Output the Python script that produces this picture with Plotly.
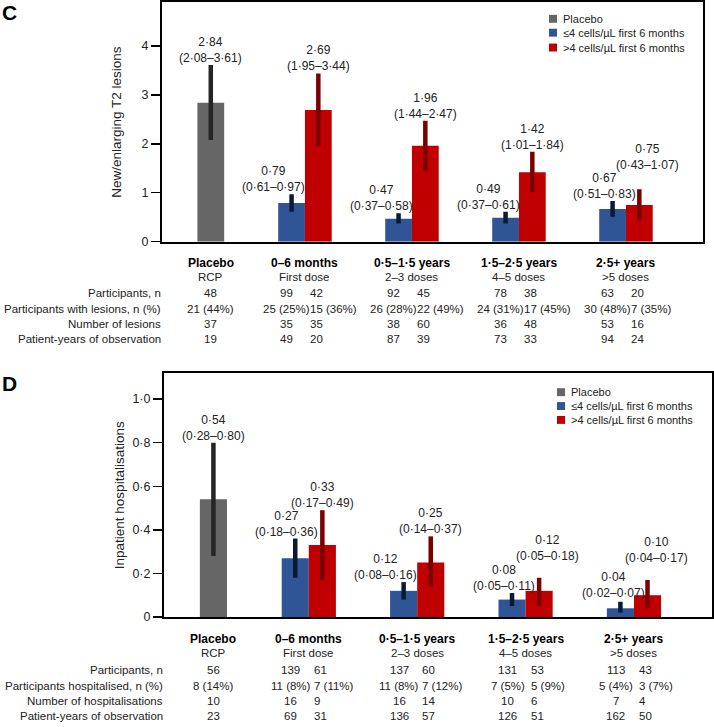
import plotly.graph_objects as go

# ---------------- data ----------------
group_names = ["Placebo", "0–6 months", "0·5–1·5 years", "1·5–2·5 years", "2·5+ years"]
group_subs = ["RCP", "First dose", "2–3 doses", "4–5 doses", ">5 doses"]
series_names = ["Placebo", "≤4 cells/µL first 6 months", ">4 cells/µL first 6 months"]

# Panel C: new/enlarging T2 lesions (rate, 95% CI)
c_placebo = [2.84]
c_placebo_lo = [2.08]
c_placebo_hi = [3.61]
c_low = [0.79, 0.47, 0.49, 0.67]
c_low_lo = [0.61, 0.37, 0.37, 0.51]
c_low_hi = [0.97, 0.58, 0.61, 0.83]
c_high = [2.69, 1.96, 1.42, 0.75]
c_high_lo = [1.95, 1.44, 1.01, 0.43]
c_high_hi = [3.44, 2.47, 1.84, 1.07]

c_participants = [48, 99, 92, 78, 63]
c_participants_high = [42, 45, 38, 20]
c_with_lesions_n = [21, 25, 26, 24, 30]
c_with_lesions_pct = [44, 25, 28, 31, 48]
c_with_lesions_high_n = [15, 22, 17, 7]
c_with_lesions_high_pct = [36, 49, 45, 35]
c_num_lesions = [37, 35, 38, 36, 53]
c_num_lesions_high = [35, 60, 48, 16]
c_pyears = [19, 49, 87, 73, 94]
c_pyears_high = [20, 39, 33, 24]

# Panel D: inpatient hospitalisations (rate, 95% CI)
d_placebo = [0.54]
d_placebo_lo = [0.28]
d_placebo_hi = [0.80]
d_low = [0.27, 0.12, 0.08, 0.04]
d_low_lo = [0.18, 0.08, 0.05, 0.02]
d_low_hi = [0.36, 0.16, 0.11, 0.07]
d_high = [0.33, 0.25, 0.12, 0.10]
d_high_lo = [0.17, 0.14, 0.05, 0.04]
d_high_hi = [0.49, 0.37, 0.18, 0.17]

d_participants = [56, 139, 137, 131, 113]
d_participants_high = [61, 60, 53, 43]
d_hosp_n = [8, 11, 11, 7, 5]
d_hosp_pct = [14, 8, 8, 5, 4]
d_hosp_high_n = [7, 7, 5, 3]
d_hosp_high_pct = [11, 12, 9, 7]
d_num_hosp = [10, 16, 16, 10, 7]
d_num_hosp_high = [9, 14, 6, 4]
d_pyears = [23, 69, 136, 126, 162]
d_pyears_high = [31, 57, 51, 50]

c_ticks = [0, 1, 2, 3, 4]
d_ticks = [0, 0.2, 0.4, 0.6, 0.8, 1.0]

# ---------------- style / layout ----------------
W, H = 714, 727
FONT = "Liberation Sans, Arial, sans-serif"
COL = ["#666666", "#2F5597", "#C00000"]
ERRCOL = ["#262626", "#0B1A33", "#7A0000"]
TXT = "#222222"
GROUP_X = [0.12, 1, 2, 3, 4]
XRANGE = [-0.336, 4.72]
BW = 0.25
TFS = 11.5  # table font size


def dot(v, nd=2):
    return f"{v:.{nd}f}".replace(".", "·")


def py(px):
    return 1 - px / H


fig = go.Figure()
annotations = []
shapes = []

panels = [
    dict(
        xa="x", ya="y", xdom=(162, 703), ydom=(2, 244), yr=[0, 4.9],
        ticks=c_ticks, ticktext=[str(t) for t in c_ticks],
        title="New/enlarging T2 lesions", title_x=117, letter="C", letter_y=13,
        pl=(c_placebo, c_placebo_lo, c_placebo_hi),
        lo=(c_low, c_low_lo, c_low_hi), hi=(c_high, c_high_lo, c_high_hi),
        head_y=(265.5, 279.5), row_y=[296, 312.5, 327.5, 342.5],
        rows=[
            ("Participants, n", [str(v) for v in c_participants], [str(v) for v in c_participants_high]),
            ("Participants with lesions, n (%)",
             [f"{n} ({p}%)" for n, p in zip(c_with_lesions_n, c_with_lesions_pct)],
             [f"{n} ({p}%)" for n, p in zip(c_with_lesions_high_n, c_with_lesions_high_pct)]),
            ("Number of lesions", [str(v) for v in c_num_lesions], [str(v) for v in c_num_lesions_high]),
            ("Patient-years of observation", [str(v) for v in c_pyears], [str(v) for v in c_pyears_high]),
        ],
        leg_x=553, leg_y=[19, 33, 48],
        dx_low=[-18, -17, -17, -8], dx_high=[0, 0, 0, 8],
        dy_pl=-2, dy_low=[-2, -2, -2, -2], dy_high=[-2, -2, -2, 15],
    ),
    dict(
        xa="x2", ya="y2", xdom=(164, 712), ydom=(377, 623), yr=[0, 1.118],
        ticks=d_ticks, ticktext=["0"] + [dot(t, 1) for t in d_ticks[1:]],
        title="Inpatient hospitalisations", title_x=119, letter="D", letter_y=387,
        pl=(d_placebo, d_placebo_lo, d_placebo_hi),
        lo=(d_low, d_low_lo, d_low_hi), hi=(d_high, d_high_lo, d_high_hi),
        head_y=(645.5, 659.5), row_y=[676.5, 692.5, 707.5, 722.5],
        rows=[
            ("Participants, n", [str(v) for v in d_participants], [str(v) for v in d_participants_high]),
            ("Participants hospitalised, n (%)",
             [f"{n} ({p}%)" for n, p in zip(d_hosp_n, d_hosp_pct)],
             [f"{n} ({p}%)" for n, p in zip(d_hosp_high_n, d_hosp_high_pct)]),
            ("Number of hospitalisations", [str(v) for v in d_num_hosp], [str(v) for v in d_num_hosp_high]),
            ("Patient-years of observation", [str(v) for v in d_pyears], [str(v) for v in d_pyears_high]),
        ],
        leg_x=561, leg_y=[396, 410, 424],
        dx_low=[-9, -18, -8, -7], dx_high=[0, 0, 8, 9],
        dy_pl=-2, dy_low=[-2, -2, -2, 0], dy_high=[-2, -2, 13, 13],
    ),
]

layout_axes = {}
for P in panels:
    xa, ya = P["xa"], P["ya"]
    xkey = "xaxis" if xa == "x" else "xaxis" + xa[1:]
    ykey = "yaxis" if ya == "y" else "yaxis" + ya[1:]
    x0, x1 = P["xdom"]
    ytop, ybot = P["ydom"]
    ppu = (x1 - x0) / (XRANGE[1] - XRANGE[0])  # px per x unit
    layout_axes[xkey] = dict(
        domain=[x0 / W, x1 / W], range=XRANGE, anchor=ya,
        showticklabels=False, ticks="", showgrid=False, zeroline=False,
        showline=True, mirror=True, linecolor="black", linewidth=2, fixedrange=True,
    )
    layout_axes[ykey] = dict(
        domain=[py(ybot), py(ytop)], range=P["yr"], anchor=xa,
        tickvals=P["ticks"], ticktext=P["ticktext"],
        ticks="outside", ticklen=9, tickwidth=1.5, tickcolor="black",
        tickfont=dict(family=FONT, size=12.5, color=TXT),
        showgrid=False, zeroline=False,
        showline=True, mirror=True, linecolor="black", linewidth=2, fixedrange=True,
    )

    # bars
    pv, plo, phi = P["pl"]
    lv, llo, lhi = P["lo"]
    hv, hlo, hhi = P["hi"]
    series = [
        ([GROUP_X[0]], pv, plo, phi),
        ([g - BW / 2 for g in GROUP_X[1:]], lv, llo, lhi),
        ([g + BW / 2 for g in GROUP_X[1:]], hv, hlo, hhi),
    ]
    for k, (xs, v, lo, hi) in enumerate(series):
        fig.add_trace(go.Bar(
            x=xs, y=v, width=BW, xaxis=xa, yaxis=ya,
            name=series_names[k], showlegend=False,
            marker=dict(color=COL[k], line=dict(width=0)),
            error_y=dict(type="data", symmetric=False,
                         array=[h - a for h, a in zip(hi, v)],
                         arrayminus=[a - l for a, l in zip(v, lo)],
                         color=ERRCOL[k], thickness=4.5, width=0),
        ))
        # value labels
        for j, (xx, a, l, h) in enumerate(zip(xs, v, lo, hi)):
            if k == 0:
                dx, dy = 0, P["dy_pl"]
            elif k == 1:
                dx, dy = P["dx_low"][j], P["dy_low"][j]
            else:
                dx, dy = P["dx_high"][j], P["dy_high"][j]
            annotations.append(dict(
                x=xx + dx / ppu, y=h, xref=xa, yref=ya, xanchor="center", yanchor="bottom",
                yshift=dy, showarrow=False, align="center",
                text=f"{dot(a)}<br>({dot(l)}–{dot(h)})",
                font=dict(family=FONT, size=12, color=TXT),
            ))

    # y-axis title
    annotations.append(dict(
        x=P["title_x"] / W, y=py((ytop + ybot) / 2), xref="paper", yref="paper",
        text=P["title"], textangle=-90, showarrow=False, xanchor="center", yanchor="middle",
        font=dict(family=FONT, size=13.5, color=TXT),
    ))
    # panel letter
    annotations.append(dict(
        x=0, y=py(P["letter_y"]), xref="paper", yref="paper", text=f"<b>{P['letter']}</b>",
        showarrow=False, xanchor="left", yanchor="middle",
        font=dict(family=FONT, size=21, color="black"),
    ))
    # legend (manual)
    for k, name in enumerate(series_names):
        cy = P["leg_y"][k]
        cx = P["leg_x"]
        shapes.append(dict(type="rect", xref="paper", yref="paper",
                           x0=(cx - 4) / W, x1=(cx + 4) / W, y0=py(cy + 4), y1=py(cy - 4),
                           fillcolor=COL[k], line=dict(width=0)))
        annotations.append(dict(
            x=(cx + 8) / W, y=py(cy), xref="paper", yref="paper", text=name,
            showarrow=False, xanchor="left", yanchor="middle",
            font=dict(family=FONT, size=11, color=TXT),
        ))
    # table: group headers
    for gx, gname, gsub in zip(GROUP_X, group_names, group_subs):
        annotations.append(dict(x=gx, y=py(P["head_y"][0]), xref=xa, yref="paper",
                                text=f"<b>{gname}</b>", showarrow=False, xanchor="center", yanchor="middle",
                                font=dict(family=FONT, size=12, color="black")))
        annotations.append(dict(x=gx, y=py(P["head_y"][1]), xref=xa, yref="paper",
                                text=gsub, showarrow=False, xanchor="center", yanchor="middle",
                                font=dict(family=FONT, size=TFS, color=TXT)))
    # table rows
    for r, (label, lowvals, highvals) in enumerate(P["rows"]):
        yy = py(P["row_y"][r])
        annotations.append(dict(x=(x0 + 1) / W, y=yy, xref="paper", yref="paper", text=label,
                                showarrow=False, xanchor="right", yanchor="middle",
                                font=dict(family=FONT, size=TFS, color=TXT)))
        annotations.append(dict(x=GROUP_X[0], y=yy, xref=xa, yref="paper", text=lowvals[0],
                                showarrow=False, xanchor="center", yanchor="middle",
                                font=dict(family=FONT, size=TFS, color=TXT)))
        for j in range(4):
            gx = GROUP_X[j + 1]
            annotations.append(dict(x=gx - 18 / ppu, y=yy, xref=xa, yref="paper", text=lowvals[j + 1],
                                    showarrow=False, xanchor="center", yanchor="middle",
                                    font=dict(family=FONT, size=TFS, color=TXT)))
            annotations.append(dict(x=gx + 3 / ppu, y=yy, xref=xa, yref="paper", text=highvals[j],
                                    showarrow=False, xanchor="left", yanchor="middle",
                                    font=dict(family=FONT, size=TFS, color=TXT)))

fig.update_layout(
    width=W, height=H, margin=dict(l=0, r=0, t=0, b=0),
    paper_bgcolor="white", plot_bgcolor="white",
    barmode="overlay", showlegend=False,
    annotations=annotations, shapes=shapes,
    font=dict(family=FONT, color=TXT),
    **layout_axes,
)

fig.write_html(
    "out.html",
    config={"displayModeBar": False, "staticPlot": True},
    post_script="document.body.style.margin='0px';document.body.style.overflow='hidden';",
)
